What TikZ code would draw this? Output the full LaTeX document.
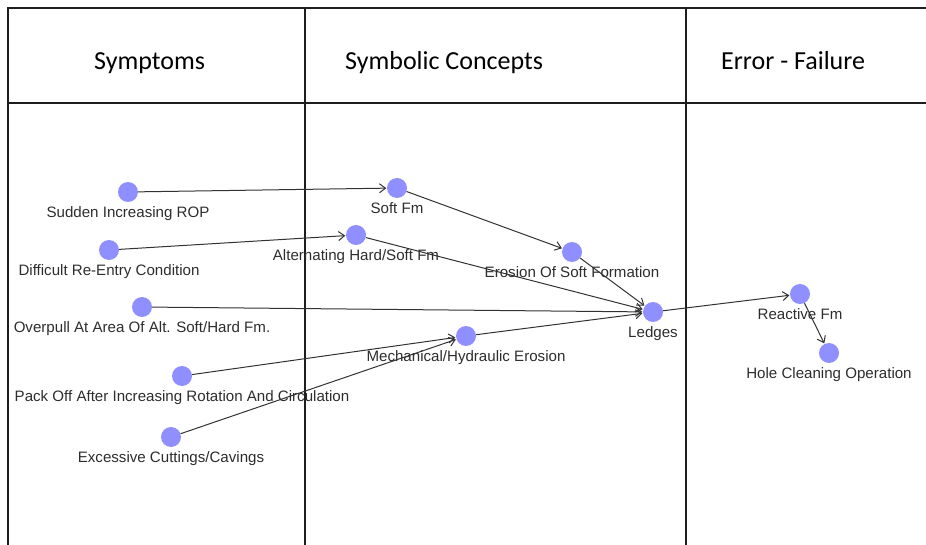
\documentclass[tikz,border=0pt]{standalone}
\usepackage{fontspec}
\setmainfont{Liberation Sans}
\newfontfamily\headfont{Carlito}
\usetikzlibrary{arrows.meta}
\definecolor{nodefill}{RGB}{143,143,255}
\definecolor{edgecol}{RGB}{50,50,50}
\definecolor{textcol}{RGB}{45,45,45}
\definecolor{gridcol}{RGB}{30,30,30}
\begin{document}
\begin{tikzpicture}[x=1pt,y=-1pt,
  grid/.style={draw=gridcol,line width=1.1pt},
  head/.style={font=\headfont\fontsize{26}{29}\selectfont,text=black,inner sep=0pt},
  concept/.style={circle,fill=nodefill,draw=none,minimum size=20pt,inner sep=0pt},
  lbl/.style={font=\fontsize{15.1}{17}\selectfont,text=textcol,inner sep=0pt,label distance=4.5pt},
  link/.style={draw=edgecol,line width=1pt,-{Straight Barb[length=6pt,width=9pt,line width=1pt]},shorten >=0.5pt}
]
\useasboundingbox (0,0) rectangle (926,545);
% table frame
\draw[grid] (926,8) -- (8,8) -- (8,545);
\draw[grid] (8,103) -- (926,103);
\draw[grid] (305,8) -- (305,545);
\draw[grid] (686,8) -- (686,545);
% column headings
\node[head,anchor=base west] (h1) at (94,70) {Symptoms};
\node[head,anchor=base west] (h2) at (345,70) {Symbolic Concepts};
\node[head,anchor=base west] (h3) at (721,70) {Error - Failure};
% concepts
\node[concept,label={[lbl]below:Sudden Increasing ROP}] (rop) at (128,192) {};
\node[concept,label={[lbl]below:Difficult Re-Entry Condition}] (reentry) at (109,250) {};
\node[concept,label={[lbl]below:Overpull At Area Of Alt. Soft/Hard Fm.}] (overpull) at (142,307) {};
\node[concept,label={[lbl]below:Pack Off After Increasing Rotation And Circulation}] (packoff) at (182,376) {};
\node[concept,label={[lbl]below:Excessive Cuttings/Cavings}] (cuttings) at (171,437) {};
\node[concept,label={[lbl]below:Soft Fm}] (softfm) at (397,188) {};
\node[concept,label={[lbl]below:Alternating Hard/Soft Fm}] (alt) at (356,235) {};
\node[concept,label={[lbl]below:Erosion Of Soft Formation}] (erosion) at (572,252) {};
\node[concept,label={[lbl]below:Mechanical/Hydraulic Erosion}] (mech) at (466,336) {};
\node[concept,label={[lbl]below:Ledges}] (ledges) at (653,312) {};
\node[concept,label={[lbl]below:Reactive Fm}] (reactive) at (800,294) {};
\node[concept,label={[lbl]below:Hole Cleaning Operation}] (hole) at (829,353) {};
% links
\draw[link] (rop) -- (softfm);
\draw[link] (reentry) -- (alt);
\draw[link] (softfm) -- (erosion);
\draw[link] (alt) -- (ledges);
\draw[link] (erosion) -- (ledges);
\draw[link] (overpull) -- (ledges);
\draw[link] (packoff) -- (mech);
\draw[link] (cuttings) -- (mech);
\draw[link] (mech) -- (ledges);
\draw[link] (ledges) -- (reactive);
\draw[link] (reactive) -- (hole);
\end{tikzpicture}
\end{document}
